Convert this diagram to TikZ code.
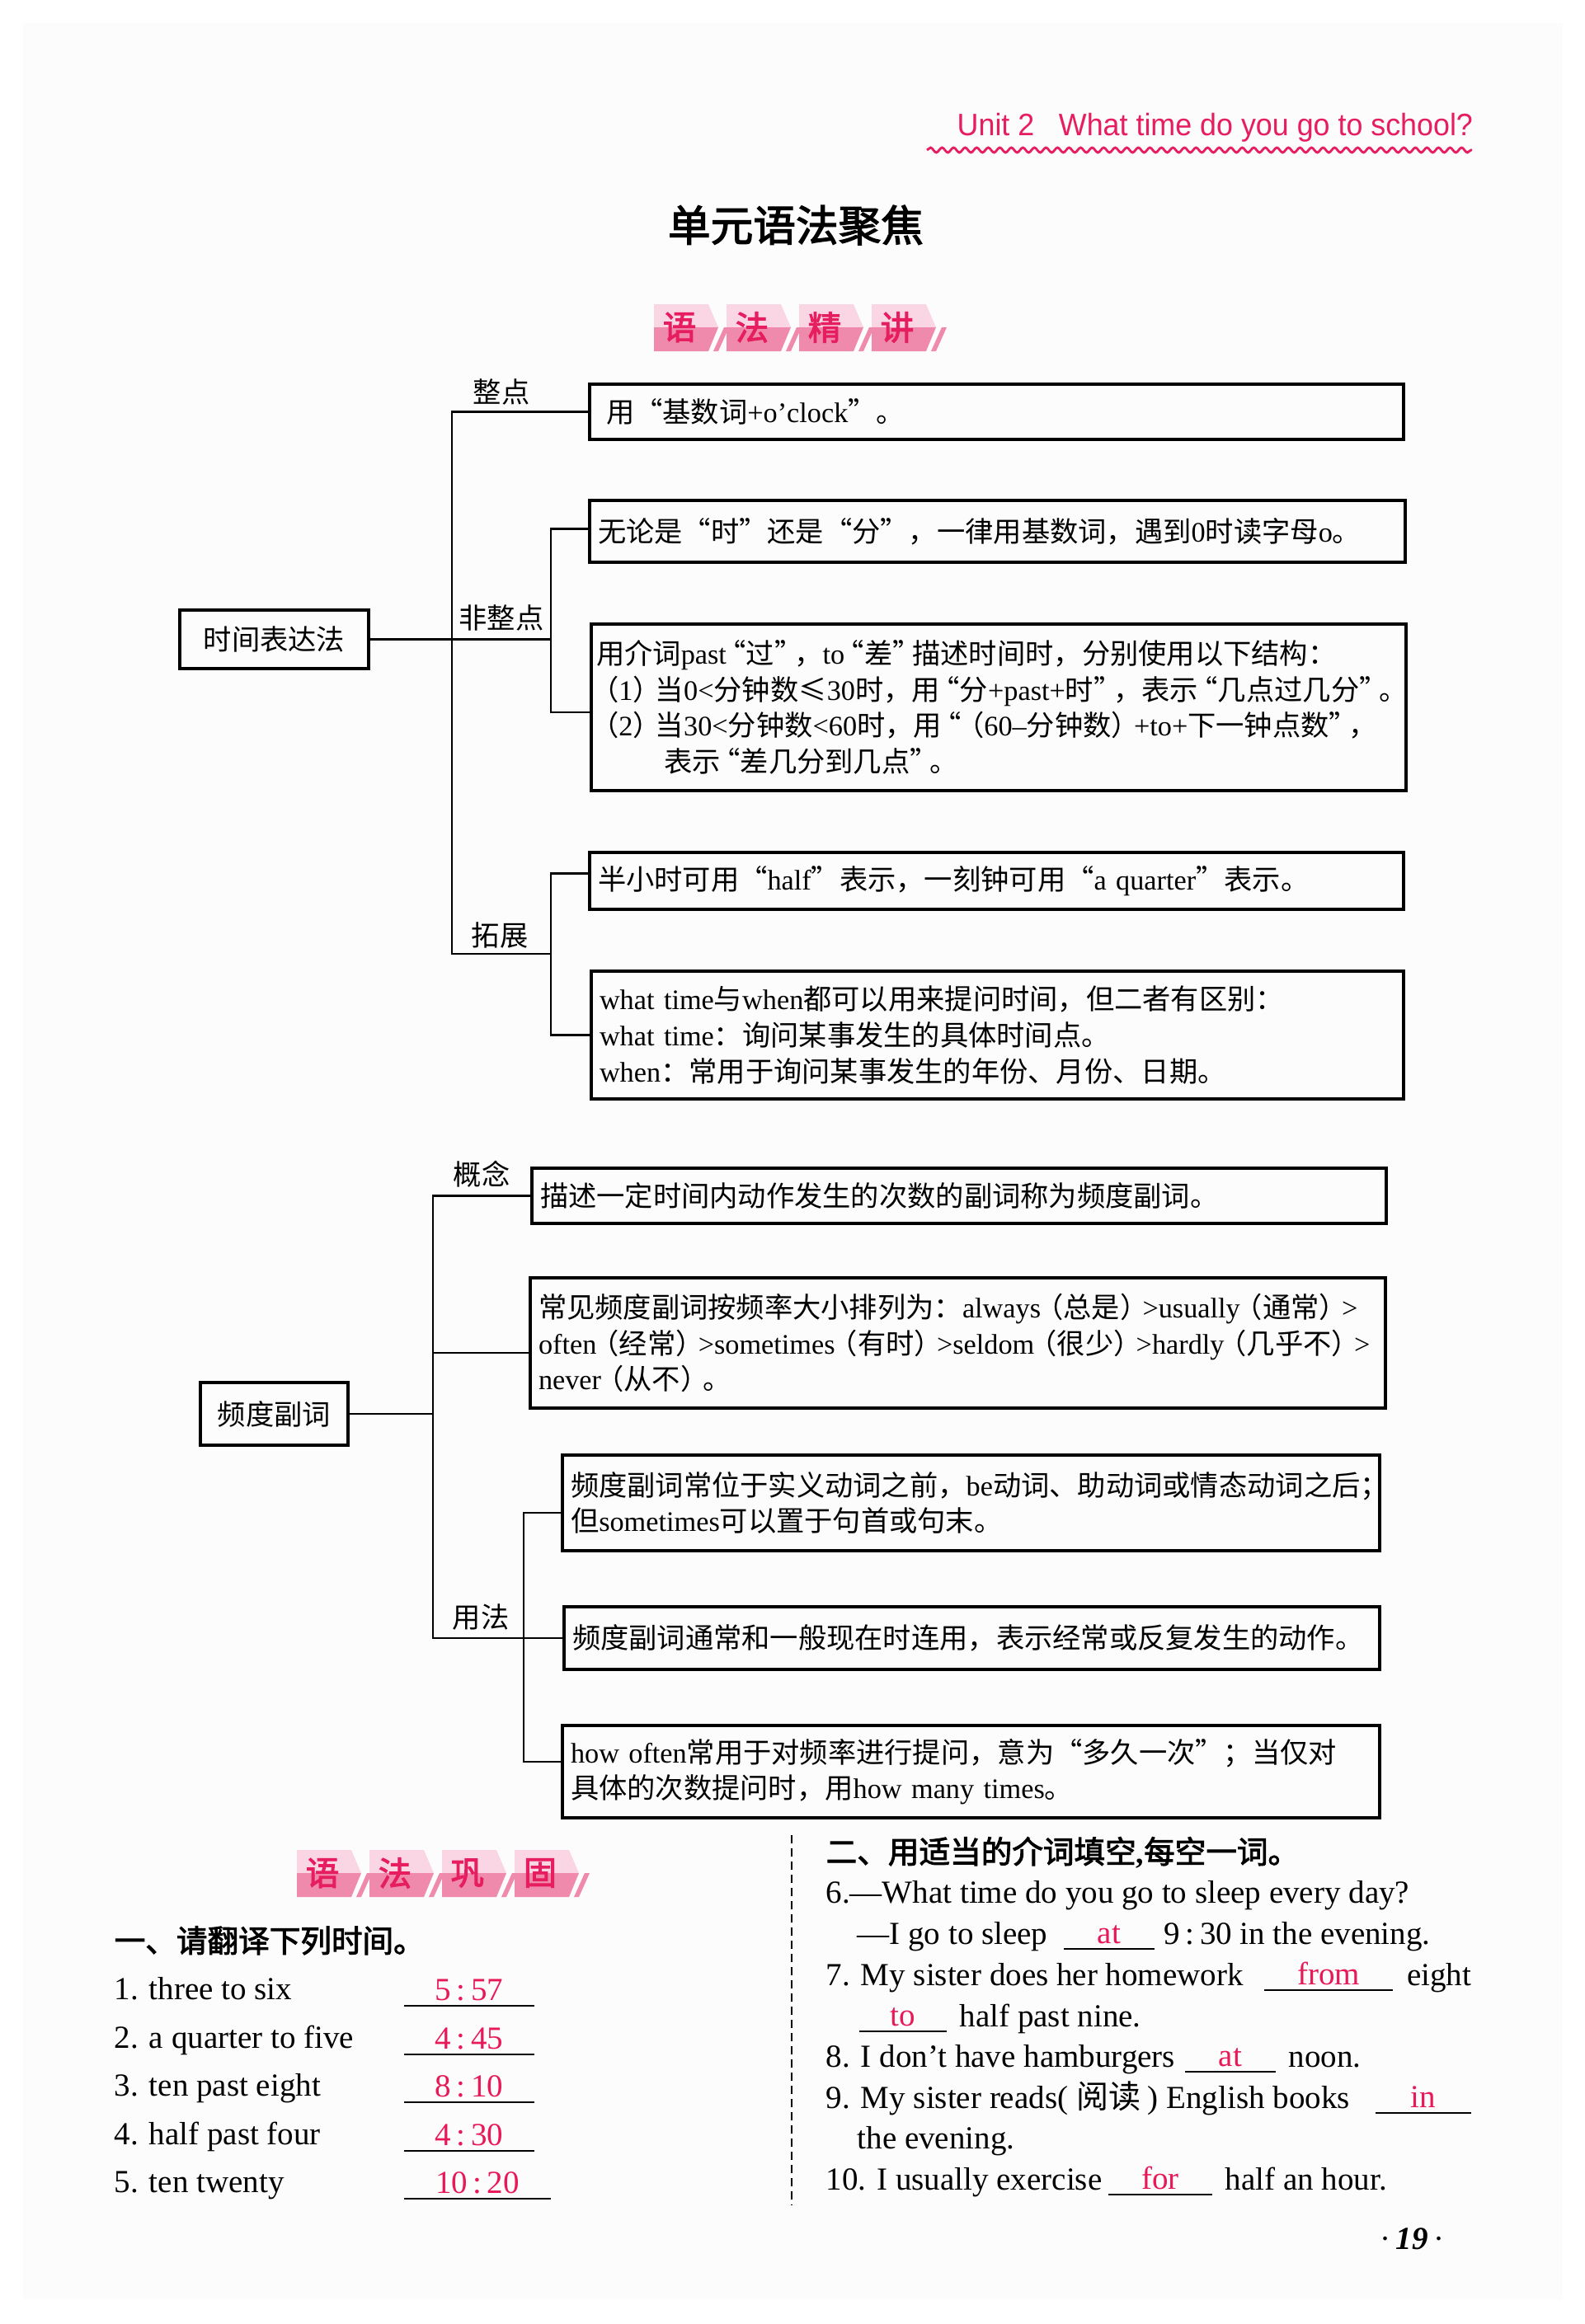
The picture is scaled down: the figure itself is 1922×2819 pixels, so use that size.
\documentclass[tikz,border=0pt]{standalone}
\usepackage{fontspec}
\setmainfont{Liberation Serif}
\setsansfont{Liberation Sans}
\newfontfamily\cjk[AutoFakeBold=2.5]{Noto Sans CJK SC}
\usetikzlibrary{decorations.pathmorphing}

% switch to the CJK font and back, character by character
\makeatletter
\newif\ifincjk
\def\cjkfam{\ifincjk\else\edef\savedfam{\f@family}\cjk\incjktrue\fi}
\def\latfam{\ifincjk\fontfamily{\savedfam}\selectfont\incjkfalse\fi}
\makeatother
\XeTeXinterchartokenstate=1
\newXeTeXintercharclass\cjkcls
\newcount\chrc
\def\setcjkrange#1#2{\chrc=#1 \loop\ifnum\chrc<#2 \XeTeXcharclass\chrc=\cjkcls \advance\chrc by 1 \repeat}
\setcjkrange{"3000}{"3040}
\setcjkrange{"4E00}{"A000}
\setcjkrange{"FF00}{"FFF0}
\XeTeXcharclass"201C=\cjkcls
\XeTeXcharclass"201D=\cjkcls
\XeTeXcharclass"2264=\cjkcls
\XeTeXinterchartoks 0 \cjkcls = {\cjkfam}
\XeTeXinterchartoks 4095 \cjkcls = {\cjkfam}
\XeTeXinterchartoks \cjkcls 0 = {\latfam}
\XeTeXinterchartoks 4095 0 = {\latfam}

% narrower quotes and brackets
\newcommand\cjklq{\makebox[0.7em][r]{“}}
\newcommand\cjkrq{\makebox[0.7em][l]{”}}
\newcommand\cjklp{\makebox[0.8em][r]{（}}
\newcommand\cjkrp{\makebox[0.8em][l]{）}}

\definecolor{pinkred}{RGB}{230,30,95}
\definecolor{ansred}{RGB}{232,25,88}
\definecolor{tilelight}{RGB}{250,214,228}
\definecolor{tiledark}{RGB}{239,138,172}
\definecolor{pagebg}{RGB}{252,252,252}

\tikzset{
  boxtxt/.style={font=\fontsize{9.75}{12.4}\selectfont},
  gbox/.style={draw, line width=0.9pt, anchor=north west, align=left,
               inner xsep=1mm, inner ysep=0pt, outer sep=0pt, boxtxt},
  rootbox/.style={draw, line width=0.9pt, anchor=north west, inner sep=0pt,
                  outer sep=0pt, boxtxt},
  lbl/.style={boxtxt, inner sep=0pt},
  conn/.style={line width=0.8pt},
  extxt/.style={font=\fontsize{11.1}{13.5}\selectfont, inner sep=0pt, anchor=base west},
  exhead/.style={font=\bfseries\fontsize{10.7}{12}\selectfont, inner sep=0pt, anchor=base west},
  ansblank/.style={font=\fontsize{11.1}{13.5}\selectfont, text=ansred, inner sep=0pt,
                   anchor=south, text depth=0.6mm},
  bannerch/.style={font=\bfseries\fontsize{11.5}{12}\selectfont, text=pinkred, inner sep=0pt},
}

\begin{document}
\begin{tikzpicture}[x=0.1mm, y=-0.1mm]
  \useasboundingbox (0,0) rectangle (1922,2819);
  \fill[pagebg] (28,28) rectangle (1895,2790);

  % --- header ---
  \node[anchor=base west, inner sep=0pt, font=\sffamily\fontsize{10.7}{12}\selectfont,
        text=pinkred] (unit) at (1160,164)
        {\scalebox{0.953}[1]{Unit 2\hspace{0.55em} What time do you go to school?}};
  \draw[pinkred, line width=0.8pt, decorate,
        decoration={snake, amplitude=0.3mm, segment length=1.4mm}] (1124,182) -- (1785,182);

  \node[font=\bfseries\fontsize{14.7}{16}\selectfont, inner sep=0pt] (title) at (965,273) {单元语法聚焦};

  % --- banner: grammar explained ---
  \foreach \c [count=\i from 0] in {语,法,精,讲} {
    \begin{scope}[shift={(793+88*\i,369)}]
      \fill[tilelight] (0,0) -- (66,0) -- (78,28) -- (0,28) -- cycle;
      \fill[tiledark] (0,28) -- (78,28) -- (66,57) -- (0,57) -- cycle;
      \fill[tiledark] (72,57) -- (78,57) -- (91,28) -- (85,28) -- cycle;
      \node[bannerch] (bnA\i) at (31,28) {\c};
    \end{scope}
  }

  % --- tree 1: telling the time ---
  \node[rootbox, minimum width=22.9mm, minimum height=7.1mm] (time) at (218,740) {时间表达法};

  \node[gbox, text width=96.7mm, minimum height=6.7mm] (b1) at (715,466)
    {\hspace*{1mm}用“基数词+o’clock”。};
  \node[gbox, text width=96.9mm, minimum height=7.5mm] (b2) at (715,607)
    {无论是“时”还是“分”，一律用基数词，遇到0时读字母o。};
  \node[gbox, text width=97.6mm, minimum height=20.2mm, inner xsep=0.6mm] (b3) at (717,757)
    {用介词past\cjklq 过\cjkrq，to\cjklq 差\cjkrq 描述时间时，分别使用以下结构：\\
     \cjklp 1\cjkrp 当0<分钟数≤30时，用\cjklq 分+past+时\cjkrq，表示\cjklq 几点过几分\cjkrq。\\
     \cjklp 2\cjkrp 当30<分钟数<60时，用\cjklq\cjklp 60–分钟数\cjkrp+to+下一钟点数\cjkrq，\\
     \hspace*{2.4em}表示\cjklq 差几分到几点\cjkrq。};
  \node[gbox, text width=96.7mm, minimum height=6.9mm] (b4) at (715,1034)
    {半小时可用“half”表示，一刻钟可用“a quarter”表示。};
  \node[gbox, text width=96.5mm, minimum height=15.5mm] (b5) at (717,1178)
    {what time与when都可以用来提问时间，但二者有区别：\\
     what time：询问某事发生的具体时间点。\\
     when：常用于询问某事发生的年份、月份、日期。};

  \node[lbl] (zd) at (608,475) {整点};
  \node[lbl] (fzd) at (608,749) {非整点};
  \node[lbl] (tz) at (606,1134) {拓展};

  \coordinate (tr1) at (548,0);
  \coordinate (st1) at (668,0);
  \coordinate (kz) at (548,1157);
  \draw[conn] (time.east) -- (time.east -| st1);
  \draw[conn] (b1.west) -- (b1.west -| tr1) -- (kz) -- (kz -| st1);
  \draw[conn] ([yshift=0.3mm]b2.west) -- ([yshift=0.3mm]b2.west -| st1)
              -- ([yshift=-0.6mm]b3.west -| st1) -- ([yshift=-0.6mm]b3.west);
  \draw[conn] ([yshift=0.9mm]b4.west) -- ([yshift=0.9mm]b4.west -| st1)
              -- (b5.west -| st1) -- (b5.west);

  % --- tree 2: adverbs of frequency ---
  \node[rootbox, minimum width=17.9mm, minimum height=7.6mm] (freq) at (243,1677) {频度副词};

  \node[gbox, text width=101.6mm, minimum height=6.7mm] (b6) at (645,1417)
    {描述一定时间内动作发生的次数的副词称为频度副词。};
  \node[gbox, text width=101.7mm, minimum height=15.8mm] (b7) at (643,1550)
    {常见频度副词按频率大小排列为：always\cjklp 总是\cjkrp>usually\cjklp 通常\cjkrp>\\
     often\cjklp 经常\cjkrp>sometimes\cjklp 有时\cjkrp>seldom\cjklp 很少\cjkrp>hardly\cjklp 几乎不\cjkrp>\\
     never\cjklp 从不\cjkrp。};
  \node[gbox, text width=97.1mm, minimum height=11.6mm] (b8) at (682,1765)
    {频度副词常位于实义动词之前，be动词、助动词或情态动词之后；\\
     但sometimes可以置于句首或句末。};
  \node[gbox, text width=96.9mm, minimum height=7.6mm] (b9) at (684,1949)
    {频度副词通常和一般现在时连用，表示经常或反复发生的动作。};
  \node[gbox, text width=97.1mm, minimum height=11.2mm] (b10) at (682,2093)
    {how often常用于对频率进行提问，意为“多久一次”；当仅对\\
     具体的次数提问时，用how many times。};

  \node[lbl] (gn) at (584,1424) {概念};
  \node[lbl] (yf) at (583,1962) {用法};

  \coordinate (tr2) at (525,0);
  \coordinate (st2) at (635,0);
  \draw[conn] (freq.east) -- (freq.east -| tr2);
  \draw[conn] (b6.west) -- (b6.west -| tr2) -- (b9.west -| tr2) -- (b9.west);
  \draw[conn] ([yshift=-1.2mm]b7.west -| tr2) -- ([yshift=-1.2mm]b7.west);
  \draw[conn] ([yshift=-1.2mm]b8.west) -- ([yshift=-1.2mm]b8.west -| st2)
              -- ([yshift=1.2mm]b10.west -| st2) -- ([yshift=1.2mm]b10.west);

  % --- banner: grammar practice ---
  \foreach \c [count=\i from 0] in {语,法,巩,固} {
    \begin{scope}[shift={(360+88*\i,2244)}]
      \fill[tilelight] (0,0) -- (66,0) -- (78,28) -- (0,28) -- cycle;
      \fill[tiledark] (0,28) -- (78,28) -- (66,57) -- (0,57) -- cycle;
      \fill[tiledark] (72,57) -- (78,57) -- (91,28) -- (85,28) -- cycle;
      \node[bannerch] (bnB\i) at (31,28) {\c};
    \end{scope}
  }

  \draw[dashed, dash pattern=on 1mm off 0.6mm, line width=0.5pt] (960,2226) -- (960,2675);

  % --- part one ---
  \node[exhead] (h1) at (138,2368) {一、请翻译下列时间。};
  \node[extxt] (q1) at (138,2425) {1. three to six};
  \node[extxt] (q2) at (138,2484) {2. a quarter to five};
  \node[extxt] (q3) at (138,2542) {3. ten past eight};
  \node[extxt] (q4) at (138,2601) {4. half past four};
  \node[extxt] (q5) at (138,2659) {5. ten twenty};
  \node[ansblank, minimum width=15.6mm] (a1) at (569,2433) {5\,:\,57};
  \node[ansblank, minimum width=15.6mm] (a2) at (569,2492) {4\,:\,45};
  \node[ansblank, minimum width=15.6mm] (a3) at (569,2550) {8\,:\,10};
  \node[ansblank, minimum width=15.6mm] (a4) at (569,2609) {4\,:\,30};
  \node[ansblank, minimum width=17.6mm] (a5) at (579,2667) {10\,:\,20};

  % --- part two ---
  \node[exhead] (h2) at (1001,2260) {二、用适当的介词填空,每空一词。};
  \node[extxt] (q6) at (1001,2308) {6.—What time do you go to sleep every day?};
  \node[extxt] (q6b) at (1039,2358) {—I go to sleep};
  \node[ansblank, minimum width=10.8mm] (a6) at (1345,2364) {at};
  \node[extxt] (q6c) at (1411,2358) {9\,:\,30 in the evening.};
  \node[extxt] (q7) at (1001,2408) {7. My sister does her homework};
  \node[ansblank, minimum width=15.4mm] (a7) at (1611,2414) {from};
  \node[extxt, anchor=base east] (q7b) at (1785,2408) {eight};
  \node[ansblank, minimum width=10.4mm] (a7b) at (1095,2464) {to};
  \node[extxt] (q7c) at (1163,2458) {half past nine.};
  \node[extxt] (q8) at (1001,2507) {8. I don’t have hamburgers};
  \node[ansblank, minimum width=10.8mm] (a8) at (1492,2513) {at};
  \node[extxt] (q8b) at (1562,2507) {noon.};
  \node[extxt] (q9) at (1001,2557) {9. My sister reads( 阅读 ) English books};
  \node[ansblank, minimum width=11.5mm] (a9) at (1726,2563) {in};
  \node[extxt] (q9b) at (1039,2606) {the evening.};
  \node[extxt] (q10) at (1001,2656) {10. I usually exercise};
  \node[ansblank, minimum width=12.4mm] (a10) at (1407,2662) {for};
  \node[extxt] (q10b) at (1485,2656) {half an hour.};

  \foreach \n in {a1,a2,a3,a4,a5,a6,a7,a7b,a8,a9,a10}
    \draw[line width=0.6pt] (\n.south west) -- (\n.south east);

  \node[extxt, anchor=base] (pg) at (1712,2728) {·\,\textbf{\textit{19}}\,·};
\end{tikzpicture}
\end{document}
